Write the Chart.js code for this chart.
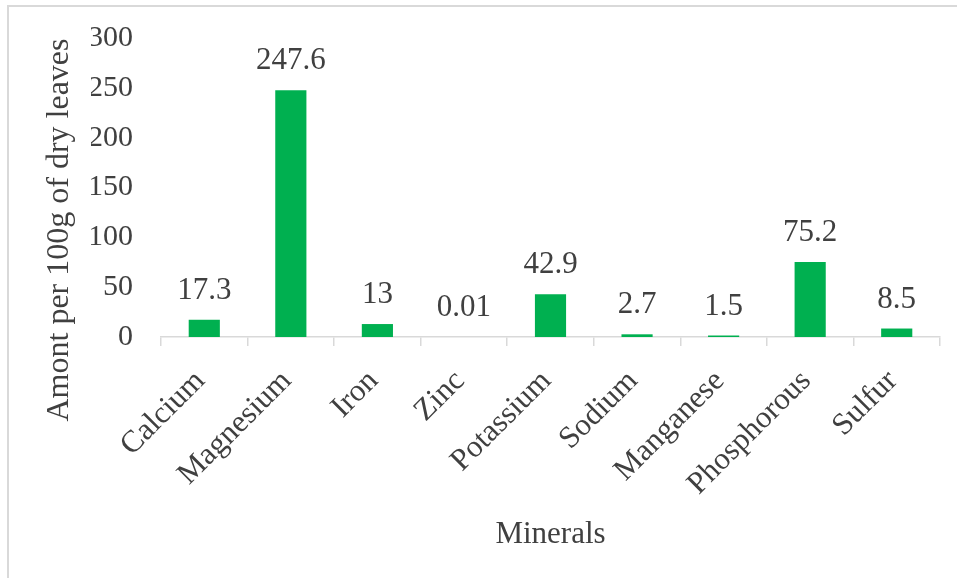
<!DOCTYPE html>
<html>
<head>
<meta charset="utf-8">
<script src="https://cdn.jsdelivr.net/npm/chart.js@4.4.1/dist/chart.umd.min.js"></script>
<style>
    html, body { margin: 0; padding: 0; background: #fff; overflow: hidden; }
    #frame {
        position: absolute; left: 7px; top: 5px; width: 1000px; height: 700px;
        border-left: 2px solid #d9d9d9; border-top: 2px solid #d9d9d9;
    }
    #wrap { position: absolute; left: 0; top: 0; width: 957px; height: 578px; }
</style>
</head>
<body>
<div id="frame"></div>
<div id="wrap"><canvas id="chart"></canvas></div>
<script>
const minerals = ['Calcium', 'Magnesium', 'Iron', 'Zinc', 'Potassium', 'Sodium', 'Manganese', 'Phosphorous', 'Sulfur'];
const amounts = [17.3, 247.6, 13, 0.01, 42.9, 2.7, 1.5, 75.2, 8.5];
const amountLabels = ['17.3', '247.6', '13', '0.01', '42.9', '2.7', '1.5', '75.2', '8.5'];
const yTicks = [0, 50, 100, 150, 200, 250, 300];

const serif = '"Liberation Serif", "Times New Roman", serif';
const textColor = '#404040';
const lineColor = '#d9d9d9';

// value text above each bar
const barValues = {
    id: 'barValues',
    afterDatasetsDraw(chart) {
        const ctx = chart.ctx;
        ctx.save();
        ctx.font = '31px ' + serif;
        ctx.fillStyle = textColor;
        ctx.textAlign = 'center';
        ctx.textBaseline = 'middle';
        chart.getDatasetMeta(0).data.forEach((bar, i) => {
            ctx.fillText(amountLabels[i], bar.x, bar.y - 29);
        });
        ctx.restore();
    }
};

// y axis title, centred a bit lower than the plot area
const yTitle = {
    id: 'yTitle',
    afterDraw(chart) {
        const ctx = chart.ctx;
        ctx.save();
        ctx.translate(60, 230);
        ctx.rotate(-Math.PI / 2);
        ctx.font = '32px ' + serif;
        ctx.fillStyle = textColor;
        ctx.textAlign = 'center';
        ctx.textBaseline = 'middle';
        ctx.fillText('Amont per 100g of dry leaves', 0, 0);
        ctx.restore();
    }
};

new Chart(document.getElementById('chart').getContext('2d'), {
    type: 'bar',
    data: {
        labels: minerals,
        datasets: [{
            data: amounts,
            backgroundColor: '#00b050',
            borderWidth: 0,
            barPercentage: 0.36,
            categoryPercentage: 1
        }]
    },
    options: {
        responsive: true,
        maintainAspectRatio: false,
        animation: false,
        layout: { padding: { left: 91, right: 17, top: 28, bottom: 0 } },
        plugins: {
            legend: { display: false },
            tooltip: { enabled: false }
        },
        scales: {
            x: {
                afterFit: (s) => { s.height = 241; },
                grid: {
                    display: true,
                    offset: true,
                    drawOnChartArea: false,
                    drawTicks: true,
                    tickLength: 9,
                    color: lineColor,
                    lineWidth: 1.5
                },
                border: { display: true, color: lineColor, width: 1.5 },
                ticks: {
                    minRotation: 45,
                    maxRotation: 45,
                    padding: 17,
                    labelOffset: -4,
                    color: textColor,
                    font: { family: serif, size: 31 }
                },
                title: {
                    display: true,
                    text: 'Minerals',
                    color: textColor,
                    font: { family: serif, size: 31 },
                    padding: { top: 0, bottom: 25 }
                }
            },
            y: {
                min: 0,
                max: 300,
                afterFit: (s) => { s.width = 70; },
                afterBuildTicks: (s) => { s.ticks = yTicks.map(v => ({ value: v })); },
                grid: { display: false },
                border: { display: false },
                ticks: {
                    padding: 20,
                    color: textColor,
                    font: { family: serif, size: 30 }
                }
            }
        }
    },
    plugins: [barValues, yTitle]
});
</script>
</body>
</html>
